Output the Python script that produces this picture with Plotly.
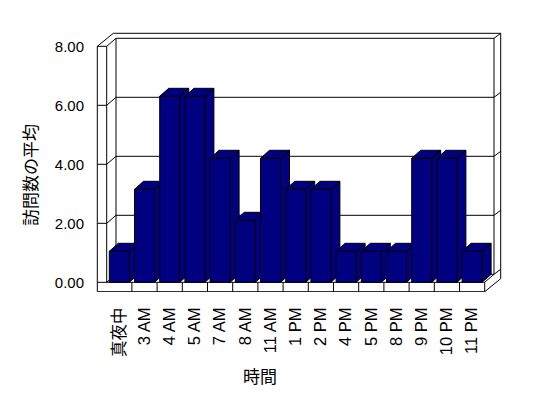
import plotly.graph_objects as go

# ---------------- data ----------------
categories = ["真夜中", "3 AM", "4 AM", "5 AM", "7 AM", "8 AM", "11 AM", "1 PM",
              "2 PM", "4 PM", "5 PM", "8 PM", "9 PM", "10 PM", "11 PM"]
values = [1, 3, 6, 6, 4, 2, 4, 3, 3, 1, 1, 1, 4, 4, 1]
y_ticks = [0, 2, 4, 6, 8]
x_title = "時間"
y_title = "訪問数の平均"

# ---------------- layout / style constants (page pixels) ----------------
PAGE_W, PAGE_H = 548, 398
OFF = 8                       # default body margin of the html page
FIG_W, FIG_H = PAGE_W - 2 * OFF, PAGE_H - 2 * OFF
PLOT_L, PLOT_R, PLOT_T, PLOT_B = 96, 504, 30, 292
CAT_PX = 25.2      # pixels per category
X0 = 119.3         # pixel x of first category centre
BAR_PX = 31.0      # pixels per unit for columns
LBL_PX = 29.5      # pixels per unit on front axis / back wall
Y0 = 282.3         # pixel y of value 0 (front floor edge)
BAR_W_PX = 20.0
BAR_DEPTH = (9.0, -8.0)
DEP = (9.3, -8.0)   # front plane -> back wall face
THK = (6.7, -5.0)   # back wall thickness
WL_OUT, WL_IN = 97.3, 106.7
FLOOR_B = 291.7
NAVY = "#000080"
FONT = "Liberation Sans, Noto Sans CJK JP"
CJK = "Noto Sans CJK JP"


def xd(px):
    return (px - X0) / CAT_PX


def yb(py):            # bar-scale units
    return (Y0 - py) / BAR_PX


def yl(py):            # label-scale units
    return (Y0 - py) / LBL_PX


def path(points, close=False):
    s = "M " + " L ".join(f"{xd(px):.4f},{yl(py):.4f}" for px, py in points)
    return s + (" Z" if close else "")


n = len(categories)
idx = list(range(n))
bw = BAR_W_PX / CAT_PX
bdx = BAR_DEPTH[0] / CAT_PX
bdy = -BAR_DEPTH[1] / BAR_PX

fig = go.Figure()

# side + top faces of the 3D columns (bar scale, overlay y2)
for i, v in zip(idx, values):
    xl, xr = i - bw / 2, i + bw / 2
    xs = [xr, xr, xr + bdx, xr + bdx, xr, None, xl, xr, xr + bdx, xl + bdx, xl]
    ys = [0, v, v + bdy, bdy, 0, None, v, v, v + bdy, v + bdy, v]
    fig.add_trace(go.Scatter(x=xs, y=ys, yaxis="y2", mode="lines", fill="toself",
                             fillcolor=NAVY, line=dict(color="black", width=1),
                             hoverinfo="skip", showlegend=False))

# front faces (bar scale, overlay y3)
fig.add_trace(go.Bar(x=idx, y=values, width=bw, yaxis="y3",
                     marker=dict(color=NAVY, line=dict(color="black", width=1)),
                     showlegend=False, name=y_title))

# ---------------- 3D frame (walls, floor, gridlines) ----------------
top_f = Y0 - LBL_PX * max(y_ticks)
fl_r = WL_IN + n * CAT_PX
bx_l, bx_r = WL_IN + DEP[0], fl_r + DEP[0]
ox, oy = DEP[0] + THK[0], DEP[1] + THK[1]
shapes = []
shapes.append(path([(WL_OUT, top_f), (WL_OUT, FLOOR_B), (fl_r, FLOOR_B),
                    (fl_r + ox, FLOOR_B + oy), (fl_r + ox, top_f + oy),
                    (WL_OUT + ox, top_f + oy)], close=True))
shapes.append(path([(WL_IN, top_f), (WL_IN, Y0), (fl_r, Y0), (fl_r, FLOOR_B)]))
shapes.append(path([(fl_r, Y0), (fl_r + DEP[0], Y0 + DEP[1])]))
shapes.append(path([(bx_l, top_f + DEP[1]), (bx_l, Y0 + DEP[1])]))
shapes.append(path([(bx_r, top_f + DEP[1]), (bx_r, Y0 + DEP[1])]))
for k in y_ticks:
    py = Y0 - LBL_PX * k
    shapes.append(path([(WL_OUT, py), (WL_IN, py), (bx_l, py + DEP[1]),
                        (bx_r, py + DEP[1]), (bx_r + THK[0], py + DEP[1] + THK[1])]))
for k in range(1, n):
    px = WL_IN + k * CAT_PX
    shapes.append(path([(px, Y0), (px, FLOOR_B)]))

fig.update_layout(shapes=[dict(type="path", path=p, xref="x", yref="y",
                               line=dict(color="black", width=1), layer="below")
                          for p in shapes])

pw, ph = PLOT_R - PLOT_L, PLOT_B - PLOT_T
fig.update_layout(
    width=FIG_W, height=FIG_H,
    margin=dict(l=PLOT_L - OFF, r=FIG_W + OFF - PLOT_R, t=PLOT_T - OFF,
                b=FIG_H + OFF - PLOT_B, pad=0, autoexpand=False),
    paper_bgcolor="white", plot_bgcolor="rgba(0,0,0,0)",
    font=dict(family=FONT, color="black", size=15),
    xaxis=dict(range=[xd(PLOT_L), xd(PLOT_R)], tickmode="array", tickvals=idx,
               ticktext=categories, tickangle=-90, showgrid=False, zeroline=False,
               showline=False, ticks="outside", ticklen=8, automargin=False,
               tickcolor="rgba(0,0,0,0)",
               tickfont=dict(size=16.5, family=FONT, color="black")),
    yaxis=dict(range=[yl(PLOT_B), yl(PLOT_T)], tickmode="array",
               tickvals=y_ticks, tickformat=".2f", showgrid=False, zeroline=False,
               showline=False, ticks="outside", ticklen=8, automargin=False,
               tickcolor="rgba(0,0,0,0)",
               tickfont=dict(size=15, family=FONT, color="black")),
    yaxis2=dict(range=[yb(PLOT_B), yb(PLOT_T)], overlaying="y", visible=False),
    yaxis3=dict(range=[yb(PLOT_B), yb(PLOT_T)], overlaying="y", visible=False),
    annotations=[
        dict(text=x_title, xref="paper", yref="paper",
             x=(260 - PLOT_L) / pw, y=(PLOT_B - 376) / ph, showarrow=False,
             xanchor="center", yanchor="middle", font=dict(size=17, family=CJK)),
        dict(text=y_title, xref="paper", yref="paper", textangle=-90,
             x=(29 - PLOT_L) / pw, y=(PLOT_B - 175) / ph, showarrow=False,
             xanchor="center", yanchor="middle", font=dict(size=17, family=CJK)),
    ],
)

fig.write_html("out.html")
